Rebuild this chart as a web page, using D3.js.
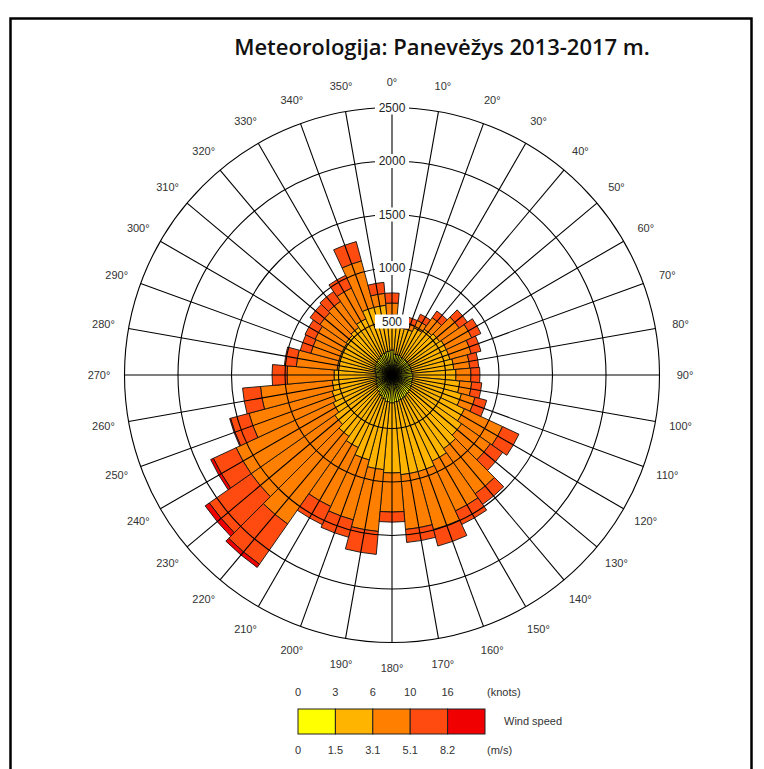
<!DOCTYPE html>
<html>
<head>
<meta charset="utf-8">
<script src="https://cdn.jsdelivr.net/npm/d3@7"></script>
<style>
  body { margin: 0; background: #fff; }
  svg { display: block; font-family: "Liberation Sans", Arial, sans-serif; }
</style>
</head>
<body>
<svg id="rose" width="764" height="769"></svg>
<script>
// wind direction sectors (degrees, 10 deg wide, centred on value)
const directions = [0, 10, 20, 30, 40, 50, 60, 70, 80, 90, 100, 110,
  120, 130, 140, 150, 160, 170, 180, 190, 200, 210, 220, 230,
  240, 250, 260, 270, 280, 290, 300, 310, 320, 330, 340, 350];

// counts per speed class (m/s)
const speed0to15 = [234, 196, 196, 187, 187, 187, 187, 187, 187, 196, 196, 196,
  206, 215, 224, 234, 243, 252, 262, 252, 234, 215, 196, 178,
  168, 159, 150, 150, 159, 168, 178, 187, 196, 206, 215, 224];
const speed15to31 = [327, 253, 253, 300, 337, 356, 374, 374, 393, 402, 440, 477,
  542, 580, 617, 654, 692, 683, 654, 636, 588, 533, 505, 476,
  440, 421, 411, 392, 356, 346, 336, 337, 346, 373, 440, 430];
const speed31to51 = [112, 47, 56, 75, 131, 224, 262, 206, 150, 140, 112, 131,
  393, 327, 514, 514, 561, 514, 365, 580, 580, 608, 1000, 954,
  1000, 804, 673, 439, 383, 271, 280, 299, 299, 318, 449, 112];
const speed51to82 = [94, 47, 56, 65, 75, 94, 94, 94, 84, 84, 94, 112,
  168, 140, 122, 140, 159, 122, 94, 215, 168, 187, 458, 477,
  234, 178, 168, 140, 112, 103, 103, 112, 112, 131, 187, 103];
const speedOver82 = [0, 0, 0, 0, 0, 0, 0, 0, 0, 0, 0, 0,
  0, 0, 0, 0, 0, 0, 0, 0, 0, 0, 37, 47,
  28, 9, 0, 0, 0, 0, 0, 0, 0, 0, 0, 0];

const speedKeys = ["s1", "s2", "s3", "s4", "s5"];
const speedColors = ["#ffff00", "#ffb400", "#ff8000", "#ff4a10", "#f00000"];
const ringTicks = [500, 1000, 1500, 2000, 2500];
const knotLabels = ["0", "3", "6", "10", "16"];
const msLabels = ["0", "1.5", "3.1", "5.1", "8.2"];

const title = "Meteorologija: Panevėžys 2013-2017 m.";

const svg = d3.select("#rose");
const cx = 392, cy = 375, R = 267.5;

// frame
svg.append("rect")
  .attr("x", 10.5).attr("y", 18.5)
  .attr("width", 741).attr("height", 800)
  .attr("fill", "none").attr("stroke", "#000").attr("stroke-width", 2.5);

svg.append("text")
  .attr("x", 442).attr("y", 55)
  .attr("text-anchor", "middle")
  .style("font-family", "'Open Sans', sans-serif")
  .style("font-weight", 600)
  .style("font-size", "22px")
  .attr("fill", "#111")
  .text(title);

// build stacked table
const table = directions.map((d, i) => ({
  dir: d,
  s1: speed0to15[i], s2: speed15to31[i], s3: speed31to51[i],
  s4: speed51to82[i], s5: speedOver82[i]
}));
const stacked = d3.stack().keys(speedKeys)(table);

const r = d3.scaleLinear().domain([0, 2500]).range([0, R]);
const rad = deg => deg * Math.PI / 180;

const g = svg.append("g").attr("transform", `translate(${cx},${cy})`);

const arc = d3.arc()
  .innerRadius(d => r(d[0]))
  .outerRadius(d => r(d[1]))
  .startAngle(d => rad(d.data.dir - 5))
  .endAngle(d => rad(d.data.dir + 5));

g.selectAll(".layer")
  .data(stacked)
  .join("g")
  .attr("class", "layer")
  .attr("fill", (d, i) => speedColors[i])
  .selectAll("path")
  .data(d => d.filter(p => p[1] > p[0]))
  .join("path")
  .attr("d", arc)
  .attr("stroke", "#111")
  .attr("stroke-width", 0.9);

// grid on top
g.selectAll(".ring")
  .data(ringTicks)
  .join("circle")
  .attr("class", "ring")
  .attr("r", d => r(d))
  .attr("fill", "none")
  .attr("stroke", "#000")
  .attr("stroke-width", 1.1);

g.selectAll(".spoke")
  .data(directions)
  .join("line")
  .attr("class", "spoke")
  .attr("x1", 0).attr("y1", 0)
  .attr("x2", d => R * Math.sin(rad(d)))
  .attr("y2", d => -R * Math.cos(rad(d)))
  .attr("stroke", "#000")
  .attr("stroke-width", 1.1);

// ring labels on north spoke
const ringLab = g.selectAll(".ringlab")
  .data(ringTicks)
  .join("g")
  .attr("class", "ringlab")
  .attr("transform", d => `translate(0,${-r(d)})`);
ringLab.append("rect")
  .attr("x", -17).attr("y", -7).attr("width", 34).attr("height", 14)
  .attr("fill", "#fff");
ringLab.append("text")
  .attr("text-anchor", "middle").attr("dy", "0.36em")
  .style("font-size", "12px").attr("fill", "#222")
  .text(d => d);

// direction labels
g.selectAll(".dirlab")
  .data(directions)
  .join("text")
  .attr("class", "dirlab")
  .attr("x", d => 293 * Math.sin(rad(d)))
  .attr("y", d => -293 * Math.cos(rad(d)))
  .attr("text-anchor", "middle").attr("dy", "0.36em")
  .style("font-size", "11px").attr("fill", "#333")
  .text(d => d + "°");

// legend
const lx = d3.scaleLinear().domain([0, 5]).range([298, 485]);
const legend = svg.append("g");
legend.selectAll("rect")
  .data(speedColors)
  .join("rect")
  .attr("x", (d, i) => lx(i)).attr("y", 709)
  .attr("width", lx(1) - lx(0)).attr("height", 25)
  .attr("fill", d => d)
  .attr("stroke", "#222").attr("stroke-width", 1);

legend.selectAll(".knot")
  .data(knotLabels)
  .join("text")
  .attr("class", "knot")
  .attr("x", (d, i) => lx(i)).attr("y", 696)
  .attr("text-anchor", "middle")
  .style("font-size", "11px").attr("fill", "#333")
  .text(d => d);
legend.selectAll(".ms")
  .data(msLabels)
  .join("text")
  .attr("class", "ms")
  .attr("x", (d, i) => lx(i)).attr("y", 754)
  .attr("text-anchor", "middle")
  .style("font-size", "11px").attr("fill", "#333")
  .text(d => d);

legend.append("text").attr("x", 487).attr("y", 696)
  .style("font-size", "11px").attr("fill", "#333").text("(knots)");
legend.append("text").attr("x", 487).attr("y", 754)
  .style("font-size", "11px").attr("fill", "#333").text("(m/s)");
legend.append("text").attr("x", 504).attr("y", 725)
  .style("font-size", "11px").attr("fill", "#333").text("Wind speed");
</script>
</body>
</html>
